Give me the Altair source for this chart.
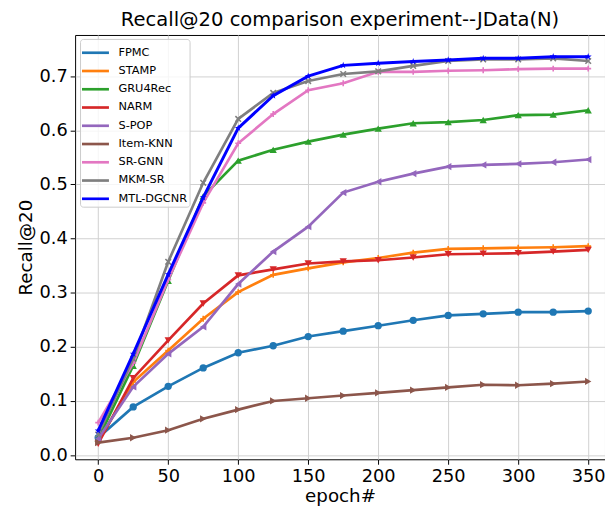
import altair as alt
import pandas as pd

epochs = [0, 25, 50, 75, 100, 125, 150, 175, 200, 225, 250, 275, 300, 325, 350]

series_names = ["FPMC", "STAMP", "GRU4Rec", "NARM", "S-POP", "Item-KNN", "SR-GNN", "MKM-SR", "MTL-DGCNR"]

fpmc = [0.032, 0.089, 0.127, 0.161, 0.189, 0.202, 0.219, 0.229, 0.239, 0.249, 0.258, 0.261, 0.264, 0.264, 0.266]
stamp = [0.025, 0.135, 0.193, 0.252, 0.301, 0.333, 0.345, 0.356, 0.364, 0.374, 0.381, 0.382, 0.383, 0.384, 0.386]
gru4rec = [0.030, 0.165, 0.322, 0.478, 0.544, 0.564, 0.579, 0.592, 0.603, 0.613, 0.615, 0.619, 0.628, 0.629, 0.637]
narm = [0.021, 0.142, 0.212, 0.280, 0.332, 0.343, 0.354, 0.358, 0.360, 0.365, 0.371, 0.372, 0.373, 0.376, 0.379]
spop = [0.030, 0.126, 0.187, 0.237, 0.316, 0.376, 0.422, 0.485, 0.505, 0.520, 0.533, 0.536, 0.538, 0.541, 0.546]
itemknn = [0.023, 0.032, 0.046, 0.067, 0.084, 0.100, 0.105, 0.110, 0.115, 0.120, 0.125, 0.130, 0.129, 0.132, 0.136]
srgnn = [0.060, 0.170, 0.324, 0.466, 0.576, 0.630, 0.674, 0.687, 0.708, 0.708, 0.710, 0.711, 0.713, 0.714, 0.714]
mkmsr = [0.038, 0.178, 0.357, 0.503, 0.621, 0.669, 0.691, 0.704, 0.709, 0.719, 0.728, 0.731, 0.731, 0.733, 0.728]
mtl = [0.045, 0.187, 0.334, 0.476, 0.604, 0.664, 0.700, 0.720, 0.724, 0.727, 0.730, 0.733, 0.733, 0.736, 0.736]

series_values = [fpmc, stamp, gru4rec, narm, spop, itemknn, srgnn, mkmsr, mtl]

colors = ["#1f77b4", "#ff7f0e", "#2ca02c", "#d62728", "#9467bd", "#8c564b", "#e377c2", "#7f7f7f", "#0000ff"]
line_widths = [2.7, 2.7, 2.7, 2.7, 2.7, 2.7, 2.7, 2.7, 3.0]

X_PATH = "M-1,-1L1,1M-1,1L1,-1"
PLUS_PATH = "M-1,0L1,0M0,-1L0,1"
STAR_PATH = ("M0,-1L0.2245,-0.309L0.951,-0.309L0.363,0.118L0.588,0.809"
             "L0,0.382L-0.588,0.809L-0.363,0.118L-0.951,-0.309L-0.2245,-0.309Z")
LEGEND_LINE = "M-1.3,0L1.3,0"

# (shape, filled, size)
markers = [
    ("circle", True, 55),
    (PLUS_PATH, False, 36),
    ("triangle-up", True, 55),
    ("triangle-down", True, 55),
    ("triangle-left", True, 55),
    ("triangle-right", True, 55),
    (PLUS_PATH, False, 36),
    (X_PATH, False, 32),
    (STAR_PATH, True, 55),
]

FONT = "DejaVu Sans"

x_enc = alt.X(
    "epoch:Q",
    scale=alt.Scale(domain=[-16.5, 362], nice=False, zero=False),
    axis=alt.Axis(values=[0, 50, 100, 150, 200, 250, 300, 350], title="epoch#"),
)
y_enc = alt.Y(
    "recall:Q",
    scale=alt.Scale(domain=[-0.0078, 0.7761], nice=False, zero=False),
    axis=alt.Axis(values=[0.0, 0.1, 0.2, 0.3, 0.4, 0.5, 0.6, 0.7], format=".1f", title="Recall@20"),
)

legend = alt.Legend(
    title=None,
    orient="none",
    legendX=5,
    legendY=4,
    symbolType=LEGEND_LINE,
    symbolSize=441,
    symbolStrokeWidth=2.7,
    symbolOffset=1.65,
    labelFont=FONT,
    labelFontSize=11.5,
    labelColor="black",
    rowPadding=0.5,
    labelOffset=11.3,
    padding=2,
    fillColor="rgba(255,255,255,0.8)",
    strokeColor="#cccccc",
    cornerRadius=3,
)

color_scale = alt.Scale(domain=series_names, range=colors)

layers = []
for name, vals, col, lw, (shape, filled, size) in zip(series_names, series_values, colors, line_widths, markers):
    df = pd.DataFrame({"epoch": epochs, "recall": vals, "model": name})
    base = alt.Chart(df)
    line = base.mark_line(strokeWidth=lw).encode(
        x=x_enc,
        y=y_enc,
        color=alt.Color("model:N", scale=color_scale, legend=legend, sort=series_names),
    )
    pts = base.mark_point(
        shape=shape, filled=filled, size=size, opacity=1,
        strokeWidth=1.6, color=col,
    ).encode(x=x_enc, y=y_enc)
    layers += [line, pts]

chart = alt.layer(*layers).properties(
    width=537,
    height=430,
    autosize="none",
    padding={"left": 68, "top": 24, "right": 0, "bottom": 46},
    title=alt.Title(
        "Recall@20 comparison experiment--JData(N)",
        font=FONT, fontSize=19.8, fontWeight="normal", color="black", offset=5,
    ),
).configure_view(
    stroke="black", strokeWidth=1
).configure_axis(
    labelFont=FONT,
    labelFontSize=18,
    labelColor="black",
    titleFont=FONT,
    titleFontSize=18.5,
    titleFontWeight="normal",
    titleColor="black",
    grid=True,
    gridColor="#d0d0d0",
    gridWidth=1,
    domain=False,
    tickColor="black",
    tickSize=5,
    labelPadding=3,
).configure_axisY(
    titlePadding=4,
).configure_axisX(
    titlePadding=2,
)

chart.save("out.html", embed_options={"renderer": "svg", "actions": False})
